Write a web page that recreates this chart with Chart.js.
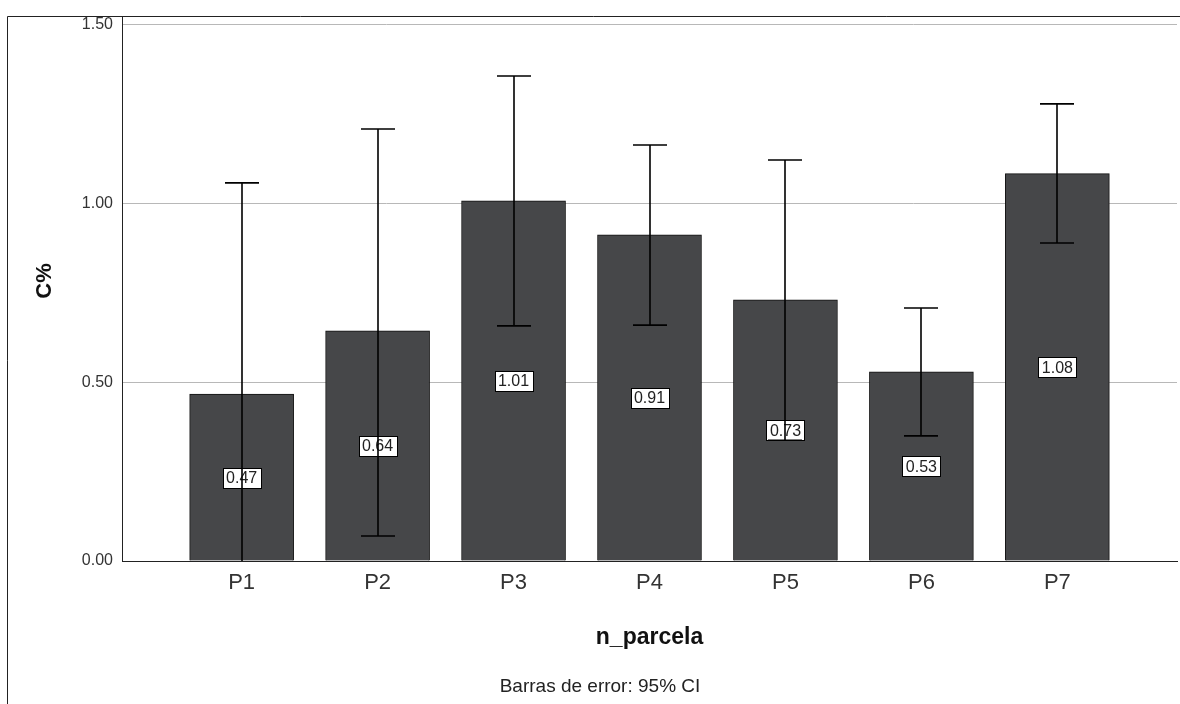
<!DOCTYPE html>
<html>
<head>
<meta charset="utf-8">
<script src="https://cdn.jsdelivr.net/npm/chart.js@4/dist/chart.umd.min.js"></script>
<style>
  html, body { margin: 0; padding: 0; background: #ffffff; }
  canvas { display: block; }
</style>
</head>
<body>
<canvas id="c" width="1180" height="704"></canvas>
<script>
// ---- data ----
const categories = ['P1', 'P2', 'P3', 'P4', 'P5', 'P6', 'P7'];
const means      = [0.467, 0.644, 1.008, 0.913, 0.731, 0.529, 1.084];
const ciLow      = [-0.124, 0.070, 0.658, 0.660, 0.338, 0.350, 0.890];
const ciHigh     = [1.058, 1.209, 1.357, 1.164, 1.122, 0.708, 1.279];
const yTicks     = [0, 0.5, 1.0, 1.5];
const yTitle     = 'C%';
const xTitle     = 'n_parcela';
const footnote   = 'Barras de error: 95% CI';

const FONT = "'Liberation Sans', Arial, sans-serif";

const points = categories.map((c, i) => ({ x: i + 1, y: means[i] }));

const decorPlugin = {
  id: 'decor',
  beforeDraw(chart) {
    const ctx = chart.ctx;
    ctx.save();
    ctx.fillStyle = '#ffffff';
    ctx.fillRect(0, 0, chart.width, chart.height);
    ctx.restore();
  },
  afterDatasetsDraw(chart) {
    const ctx = chart.ctx;
    const xs = chart.scales.x, ys = chart.scales.y;
    const area = chart.chartArea;
    // value labels
    ctx.save();
    ctx.font = '16px ' + FONT;
    ctx.textAlign = 'center';
    ctx.textBaseline = 'middle';
    means.forEach((v, i) => {
      const px = xs.getPixelForValue(i + 1);
      const py = ys.getPixelForValue(v / 2);
      const txt = v.toFixed(2);
      const w = Math.round(ctx.measureText(txt).width) + 7;
      const h = 20;
      const bx = Math.round(px - w / 2) + 0.5, by = Math.round(py - h / 2) + 0.5;
      ctx.fillStyle = '#ffffff';
      ctx.fillRect(bx, by, w, h);
      ctx.strokeStyle = '#000000';
      ctx.lineWidth = 1;
      ctx.strokeRect(bx, by, w, h);
      ctx.fillStyle = '#222222';
      ctx.fillText(txt, px, py + 1);
    });
    ctx.restore();
    // error bars
    ctx.save();
    ctx.beginPath();
    ctx.rect(area.left, area.top, area.right - area.left, area.bottom - area.top);
    ctx.clip();
    ctx.strokeStyle = '#000000';
    ctx.lineWidth = 1.6;
    const cap = 17;
    categories.forEach((c, i) => {
      const px = Math.round(xs.getPixelForValue(i + 1));
      const lo = ys.getPixelForValue(ciLow[i]);
      const hi = ys.getPixelForValue(ciHigh[i]);
      ctx.beginPath();
      ctx.moveTo(px, lo); ctx.lineTo(px, hi);
      ctx.moveTo(px - cap, hi); ctx.lineTo(px + cap, hi);
      ctx.moveTo(px - cap, lo); ctx.lineTo(px + cap, lo);
      ctx.stroke();
    });
    ctx.restore();
  },
  afterDraw(chart) {
    const ctx = chart.ctx;
    const area = chart.chartArea;
    ctx.save();
    // outer frame
    ctx.strokeStyle = '#222222';
    ctx.lineWidth = 1;
    ctx.beginPath();
    ctx.moveTo(7.5, chart.height);
    ctx.lineTo(7.5, 16.5);
    ctx.lineTo(chart.width, 16.5);
    ctx.stroke();
    // y title
    ctx.fillStyle = '#111111';
    ctx.font = 'bold 22px ' + FONT;
    ctx.textAlign = 'center';
    ctx.textBaseline = 'middle';
    ctx.save();
    ctx.translate(45, 281);
    ctx.rotate(-Math.PI / 2);
    ctx.fillText(yTitle, 0, 0);
    ctx.restore();
    // x title
    ctx.textBaseline = 'alphabetic';
    ctx.font = 'bold 23px ' + FONT;
    ctx.fillText(xTitle, (area.left + area.right) / 2, 644);
    // footnote
    ctx.font = '19px ' + FONT;
    ctx.fillStyle = '#222222';
    ctx.fillText(footnote, 600, 692);
    ctx.restore();
  }
};

new Chart(document.getElementById('c'), {
  type: 'bar',
  data: {
    datasets: [{
      data: points,
      backgroundColor: '#464749',
      borderColor: '#111111',
      borderWidth: 1,
      barThickness: 104
    }]
  },
  options: {
    responsive: false,
    animation: false,
    devicePixelRatio: 1,
    layout: { padding: { top: 16, right: 3, left: 0, bottom: 0 } },
    plugins: { legend: { display: false }, tooltip: { enabled: false } },
    scales: {
      x: {
        type: 'linear',
        offset: false,
        min: 0.12,
        max: 7.88,
        afterFit(s) { s.height = 143; s.paddingLeft = 0; s.paddingRight = 0; },
        afterBuildTicks(s) {
          s.ticks = categories.map((c, i) => ({ value: i + 1 }));
        },
        grid: { display: false, drawTicks: false },
        border: { display: true, color: '#222222', width: 1 },
        ticks: {
          autoSkip: false,
          maxRotation: 0,
          padding: 9,
          color: '#333333',
          font: { family: FONT, size: 22 },
          callback(v) { return categories[v - 1]; }
        }
      },
      y: {
        min: 0,
        max: 1.525,
        afterFit(s) { s.width = 122; s.paddingTop = 0; s.paddingBottom = 0; },
        afterBuildTicks(s) {
          s.ticks = yTicks.map(v => ({ value: v }));
        },
        grid: { color: '#b8b8b8', lineWidth: 1, drawTicks: false },
        border: { display: true, color: '#222222', width: 1 },
        ticks: {
          padding: 9,
          color: '#333333',
          font: { family: FONT, size: 16 },
          callback(v) { return v.toFixed(2); }
        }
      }
    }
  },
  plugins: [decorPlugin]
});
</script>
</body>
</html>
